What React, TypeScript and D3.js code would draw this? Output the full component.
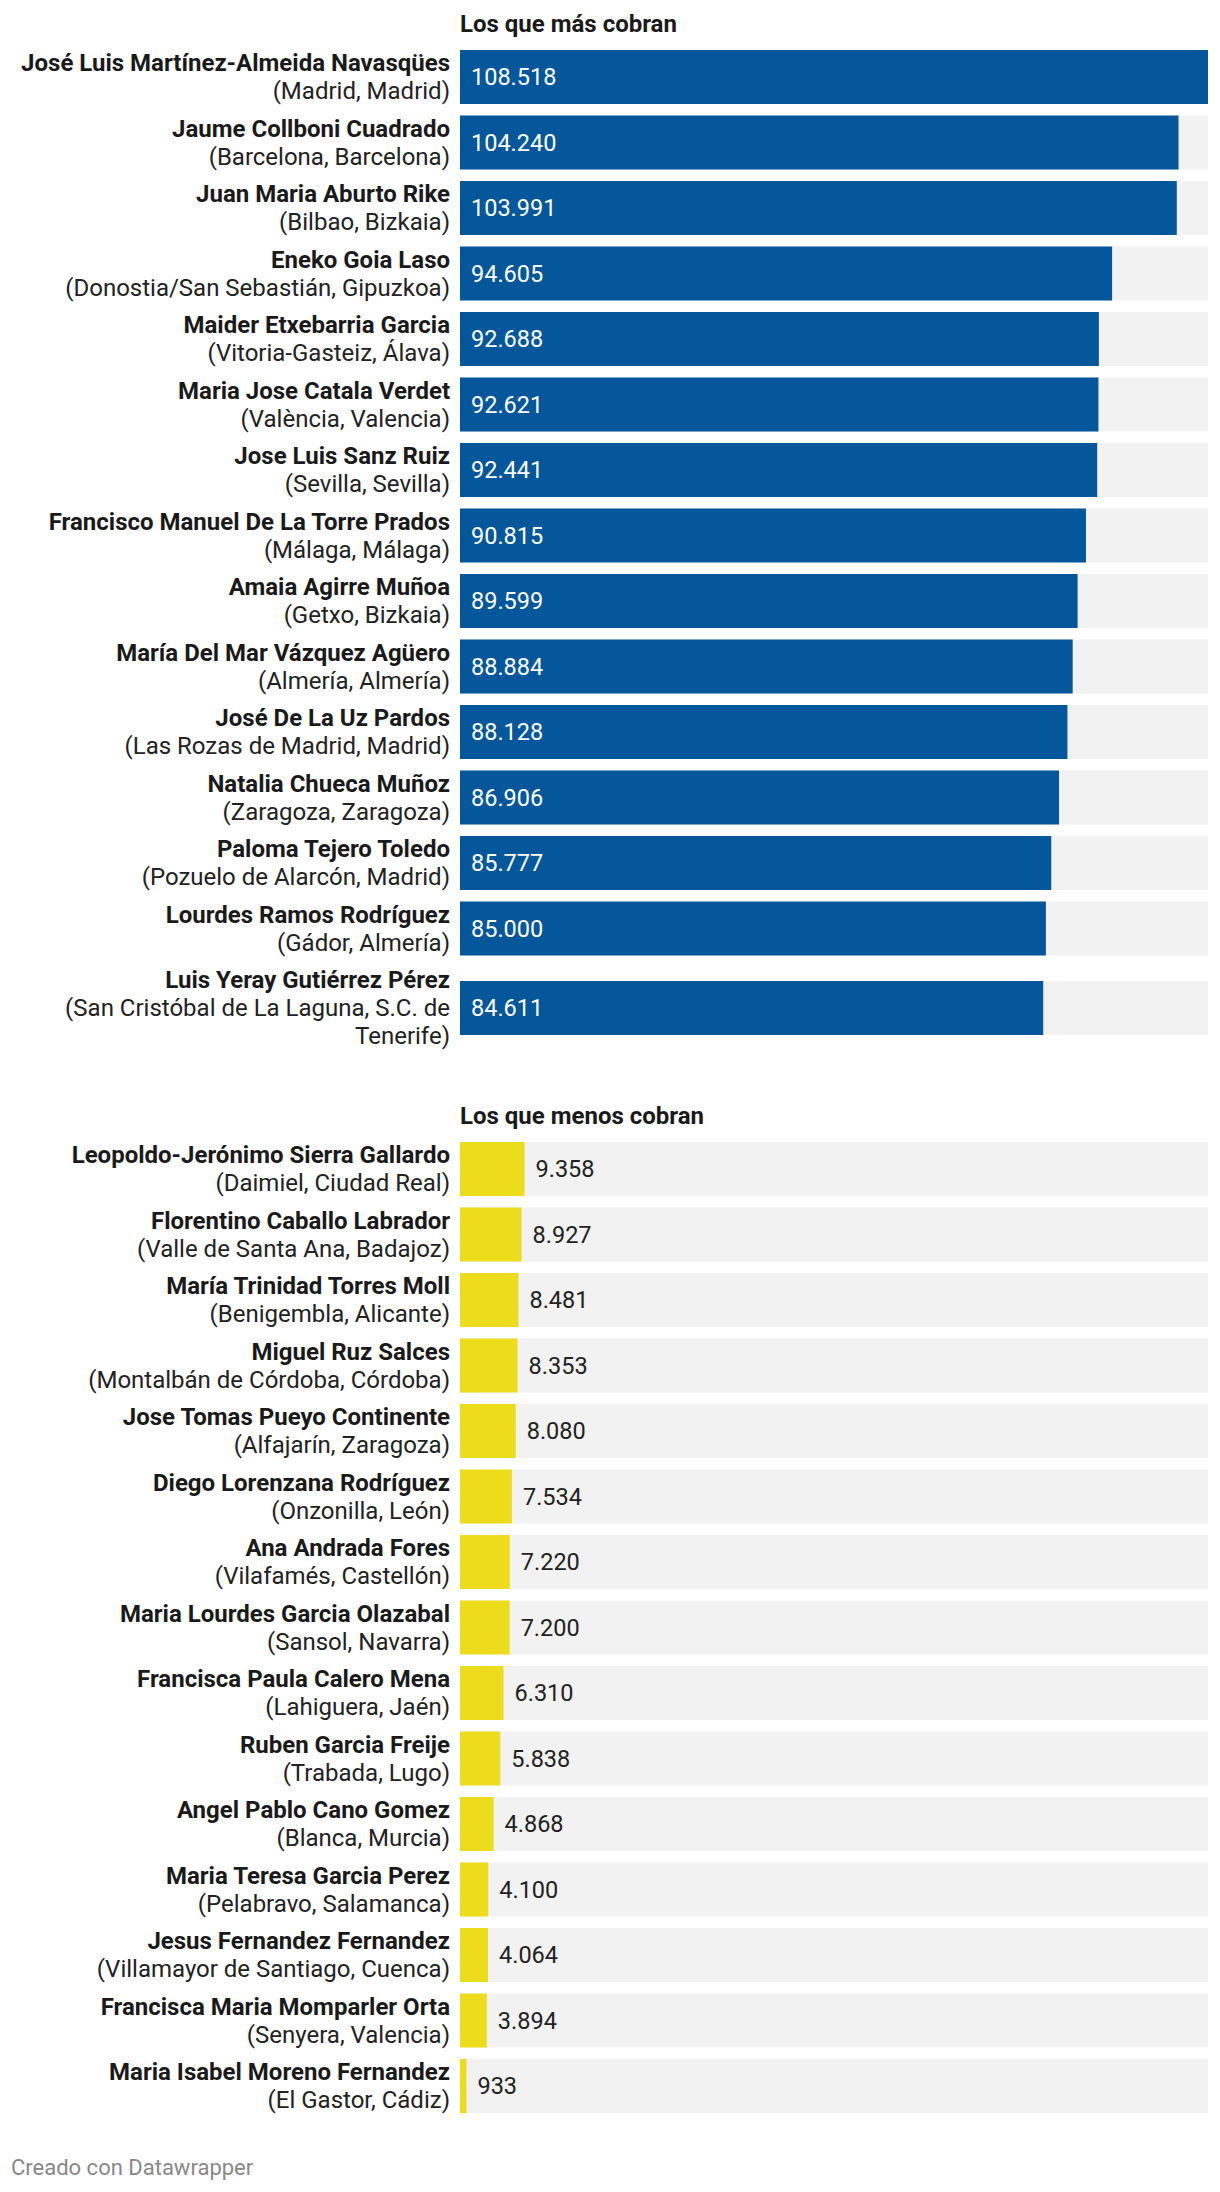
import React from "react";
import * as d3 from "d3";

const topNames = [
  "José Luis Martínez-Almeida Navasqües",
  "Jaume Collboni Cuadrado",
  "Juan Maria Aburto Rike",
  "Eneko Goia Laso",
  "Maider Etxebarria Garcia",
  "Maria Jose Catala Verdet",
  "Jose Luis Sanz Ruiz",
  "Francisco Manuel De La Torre Prados",
  "Amaia Agirre Muñoa",
  "María Del Mar Vázquez Agüero",
  "José De La Uz Pardos",
  "Natalia Chueca Muñoz",
  "Paloma Tejero Toledo",
  "Lourdes Ramos Rodríguez",
  "Luis Yeray Gutiérrez Pérez",
];
const topPlaces = [
  "(Madrid, Madrid)",
  "(Barcelona, Barcelona)",
  "(Bilbao, Bizkaia)",
  "(Donostia/San Sebastián, Gipuzkoa)",
  "(Vitoria-Gasteiz, Álava)",
  "(València, Valencia)",
  "(Sevilla, Sevilla)",
  "(Málaga, Málaga)",
  "(Getxo, Bizkaia)",
  "(Almería, Almería)",
  "(Las Rozas de Madrid, Madrid)",
  "(Zaragoza, Zaragoza)",
  "(Pozuelo de Alarcón, Madrid)",
  "(Gádor, Almería)",
  "(San Cristóbal de La Laguna, S.C. de Tenerife)",
];
const topValues = [108518, 104240, 103991, 94605, 92688, 92621, 92441, 90815, 89599, 88884, 88128, 86906, 85777, 85000, 84611];

const bottomNames = [
  "Leopoldo-Jerónimo Sierra Gallardo",
  "Florentino Caballo Labrador",
  "María Trinidad Torres Moll",
  "Miguel Ruz Salces",
  "Jose Tomas Pueyo Continente",
  "Diego Lorenzana Rodríguez",
  "Ana Andrada Fores",
  "Maria Lourdes Garcia Olazabal",
  "Francisca Paula Calero Mena",
  "Ruben Garcia Freije",
  "Angel Pablo Cano Gomez",
  "Maria Teresa Garcia Perez",
  "Jesus Fernandez Fernandez",
  "Francisca Maria Momparler Orta",
  "Maria Isabel Moreno Fernandez",
];
const bottomPlaces = [
  "(Daimiel, Ciudad Real)",
  "(Valle de Santa Ana, Badajoz)",
  "(Benigembla, Alicante)",
  "(Montalbán de Córdoba, Córdoba)",
  "(Alfajarín, Zaragoza)",
  "(Onzonilla, León)",
  "(Vilafamés, Castellón)",
  "(Sansol, Navarra)",
  "(Lahiguera, Jaén)",
  "(Trabada, Lugo)",
  "(Blanca, Murcia)",
  "(Pelabravo, Salamanca)",
  "(Villamayor de Santiago, Cuenca)",
  "(Senyera, Valencia)",
  "(El Gastor, Cádiz)",
];
const bottomValues = [9358, 8927, 8481, 8353, 8080, 7534, 7220, 7200, 6310, 5838, 4868, 4100, 4064, 3894, 933];

const sectionTitles = ["Los que más cobran", "Los que menos cobran"];
const footerText = "Creado con Datawrapper";

const W = 1220;
const H = 2192;
const FONT = "Roboto, 'Noto Sans', sans-serif";
const LABEL_RIGHT = 450;
const BAR_LEFT = 460;
const BAR_RIGHT = 1208;
const BAR_H = 54;
const LINE_H = 28;
const ROW_GAP = 9.5;
const LABEL_SIZE = 24;
const VALUE_SIZE = 23.5;
const MAX_LABEL_W = 440;

const locale = d3.formatLocale({ decimal: ",", thousands: ".", grouping: [3], currency: ["", "€"] });
const fmt = locale.format(",d");

let ctx: CanvasRenderingContext2D | null = null;
function measure(text: string, font: string) {
  if (!ctx) ctx = document.createElement("canvas").getContext("2d");
  if (!ctx) return text.length * 11;
  ctx.font = font;
  return ctx.measureText(text).width;
}
function wrap(text: string, font: string, maxW: number) {
  const words = text.split(" ");
  const lines: string[] = [];
  let cur = "";
  for (const w of words) {
    const t = cur ? cur + " " + w : w;
    if (cur && measure(t, font) > maxW) {
      lines.push(cur);
      cur = w;
    } else cur = t;
  }
  if (cur) lines.push(cur);
  return lines;
}

const x = d3.scaleLinear().domain([0, d3.max(topValues.concat(bottomValues)) as number]).range([BAR_LEFT, BAR_RIGHT]);

type Row = { name: string; place: string; value: number };

function Section({ rows, title, top, color, inside }: { rows: Row[]; title: string; top: number; color: string; inside: boolean }) {
  let y = top;
  const els: React.ReactNode[] = [];
  rows.forEach((r, i) => {
    const placeLines = wrap(r.place, `400 ${LABEL_SIZE}px Roboto`, MAX_LABEL_W);
    const lines = [r.name, ...placeLines];
    const contentH = Math.max(BAR_H, lines.length * LINE_H);
    const barTop = y + (contentH - BAR_H) / 2;
    const cy = y + contentH / 2;
    const firstLineCy = cy - ((lines.length - 1) * LINE_H) / 2;
    const bw = x(r.value) - x(0);
    els.push(
      <g key={i}>
        <rect x={x(0)} y={barTop} width={x.range()[1] - x(0)} height={BAR_H} fill="#f2f2f2" />
        <rect x={x(0)} y={barTop} width={bw} height={BAR_H} fill={color} />
        {lines.map((l, j) => (
          <text
            key={j}
            x={LABEL_RIGHT}
            y={firstLineCy + j * LINE_H}
            dy="0.35em"
            textAnchor="end"
            fontFamily={FONT}
            fontSize={LABEL_SIZE}
            fontWeight={j === 0 ? 700 : 400}
            fill={j === 0 ? "#1a1a1a" : "#222"}
          >
            {l}
          </text>
        ))}
        <text
          x={inside ? x(0) + 11 : x(r.value) + 11}
          y={barTop + BAR_H / 2}
          dy="0.35em"
          fontFamily={FONT}
          fontSize={VALUE_SIZE}
          fill={inside ? "#ffffff" : "#222"}
        >
          {fmt(r.value)}
        </text>
      </g>
    );
    y += contentH + ROW_GAP;
  });
  return (
    <g>
      <text x={BAR_LEFT} y={top - 17} fontFamily={FONT} fontSize={24} fontWeight={700} fill="#1a1a1a">
        {title}
      </text>
      {els}
    </g>
  );
}

export default function App() {
  const topRows = topNames.map((n, i) => ({ name: n, place: topPlaces[i], value: topValues[i] }));
  const bottomRows = bottomNames.map((n, i) => ({ name: n, place: bottomPlaces[i], value: bottomValues[i] }));
  return (
    <div style={{ position: "absolute", left: 0, top: 0, background: "#fff" }}>
      <svg width={W} height={H} style={{ display: "block" }}>
        <rect width={W} height={H} fill="#fff" />
        <Section rows={topRows} title={sectionTitles[0]} top={49} color="#03579a" inside={true} />
        <Section rows={bottomRows} title={sectionTitles[1]} top={1141} color="#ecdc1c" inside={false} />
        <text x={11} y={2175} fontFamily={FONT} fontSize={22} fill="#888">
          {footerText}
        </text>
      </svg>
    </div>
  );
}
